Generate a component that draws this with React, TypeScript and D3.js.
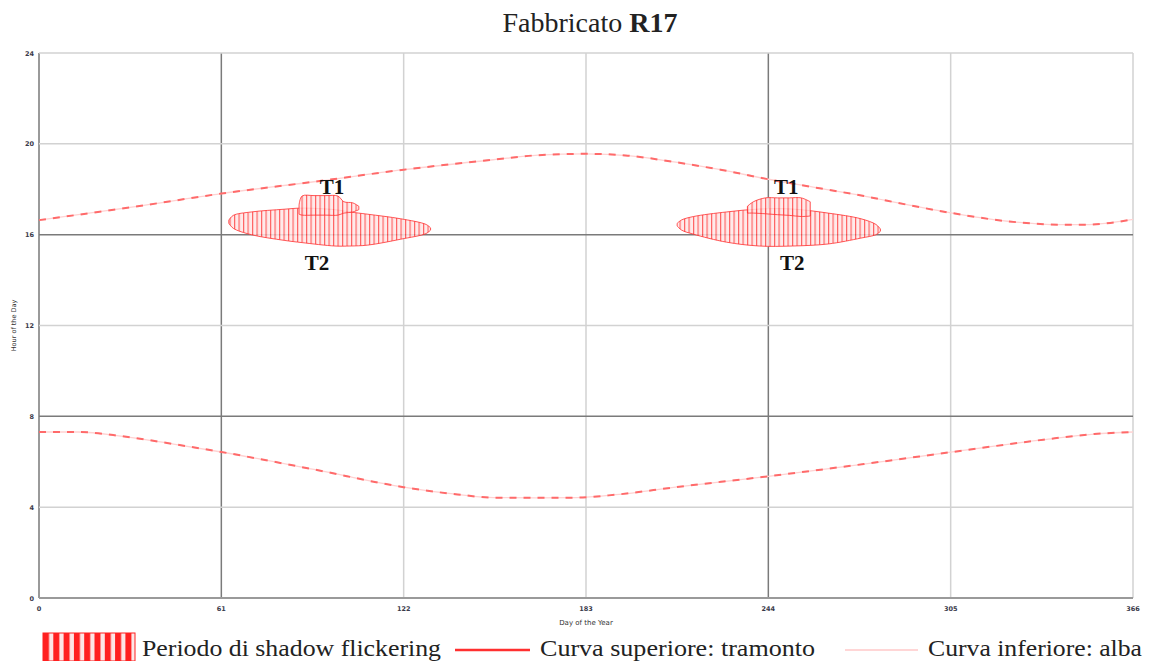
import React from "react";
import * as d3 from "d3";

const W = 1149;
const H = 661;

// Axis ticks
const xTicks = [0, 61, 122, 183, 244, 305, 366];
const yTicks = [0, 4, 8, 12, 16, 20, 24];
const majorXTicks = [61, 244];
const majorYTicks = [8, 16];

// Sunset (upper curve)
const sunsetDays = [0, 31, 61, 92, 122, 152, 167, 183, 197, 213, 228, 244, 260, 276, 290, 305, 324, 342, 350, 366];
const sunsetHours = [16.64, 17.21, 17.81, 18.33, 18.86, 19.3, 19.5, 19.56, 19.48, 19.19, 18.86, 18.44, 18.07, 17.7, 17.33, 16.96, 16.59, 16.44, 16.44, 16.67];

// Sunrise (lower curve)
const sunriseDays = [0, 13, 28, 45, 61, 92, 122, 140, 152, 166, 180, 193, 213, 244, 276, 305, 336, 353, 366];
const sunriseHours = [7.31, 7.31, 7.12, 6.78, 6.43, 5.66, 4.88, 4.56, 4.42, 4.41, 4.42, 4.55, 4.88, 5.36, 5.9, 6.42, 6.97, 7.22, 7.31];

// Shadow flicker windows: day, start hour, end hour
const t2SpringDays = [63.5, 65, 71, 82, 88, 99, 104, 110, 121, 129.5, 131];
const t2SpringStart = [16.5, 16.28, 16.0, 15.75, 15.65, 15.5, 15.5, 15.54, 15.8, 16.05, 16.2];
const t2SpringEnd = [16.64, 16.85, 17.0, 17.12, 17.17, 17.1, 17.0, 16.9, 16.7, 16.45, 16.3];

const t1SpringDays = [87, 88, 92, 96, 100, 102, 105, 107];
const t1SpringStart = [16.9, 16.86, 16.86, 16.86, 16.86, 16.95, 17.0, 17.1];
const t1SpringEnd = [17.3, 17.7, 17.72, 17.72, 17.7, 17.45, 17.4, 17.25];

const t2FallDays = [213.5, 215, 219, 230, 241, 252, 264, 275, 280, 281.5];
const t2FallStart = [16.38, 16.2, 16.02, 15.67, 15.5, 15.5, 15.59, 15.85, 16.0, 16.15];
const t2FallEnd = [16.5, 16.65, 16.8, 17.0, 17.13, 17.13, 16.95, 16.7, 16.45, 16.25];

const t1FallDays = [237, 239, 243, 247, 251, 255, 258];
const t1FallStart = [16.95, 16.95, 16.92, 16.88, 16.85, 16.8, 16.82];
const t1FallEnd = [17.25, 17.45, 17.62, 17.62, 17.62, 17.62, 17.45];

// Turbine labels
const labelNames = ["T1", "T2", "T1", "T2"];
const labelDays = [98, 93, 250, 252];
const labelHours = [17.8, 14.45, 17.8, 14.45];

const legendLabels = ["Periodo di shadow flickering", "Curva superiore: tramonto", "Curva inferiore: alba"];

type Win = { d: number; s: number; e: number };
const zipWin = (days: number[], s: number[], e: number[]): Win[] =>
  days.map((d, i) => ({ d, s: s[i], e: e[i] }));

export default function App() {
  const x = d3.scaleLinear().domain([0, 366]).range([39, 1133]);
  const y = d3.scaleLinear().domain([0, 24]).range([598, 53]);

  const line = d3
    .line<[number, number]>()
    .x((p) => x(p[0]))
    .y((p) => y(p[1]))
    .curve(d3.curveMonotoneX);

  const area = d3
    .area<Win>()
    .x((p) => x(p.d))
    .y0((p) => y(p.s))
    .y1((p) => y(p.e))
    .curve(d3.curveCatmullRom);

  const sunset = line(sunsetDays.map((d, i) => [d, sunsetHours[i]])) || "";
  const sunrise = line(sunriseDays.map((d, i) => [d, sunriseHours[i]])) || "";

  const windows = [
    zipWin(t2SpringDays, t2SpringStart, t2SpringEnd),
    zipWin(t1SpringDays, t1SpringStart, t1SpringEnd),
    zipWin(t2FallDays, t2FallStart, t2FallEnd),
    zipWin(t1FallDays, t1FallStart, t1FallEnd),
  ];

  const serif = "'Liberation Serif', 'Times New Roman', serif";
  const sans = "'DejaVu Sans', Arial, sans-serif";

  return (
    <div style={{ position: "absolute", left: 0, top: 0 }}>
      <svg width={W} height={H} style={{ display: "block", background: "#fff" }}>
        <defs>
          <pattern id="hatch" patternUnits="userSpaceOnUse" width={4.5} height={10}>
            <rect width={4.5} height={10} fill="#ffe6e6" />
            <line x1={0.6} x2={0.6} y1={0} y2={10} stroke="#ff3b3b" strokeWidth={1.1} />
          </pattern>
          <pattern id="legendStripes" patternUnits="userSpaceOnUse" x={43} width={10.3} height={30}>
            <rect width={10.3} height={30} fill="#fde6e6" />
            <rect x={0} width={6} height={30} fill="#ff2020" />
          </pattern>
        </defs>

        {/* Title */}
        <text x={590} y={32} textAnchor="middle" fontFamily={serif} fontSize={28} fill="#222">
          Fabbricato <tspan fontWeight="bold">R17</tspan>
        </text>

        {/* Grid */}
        {xTicks.map((t) => (
          <line
            key={"gx" + t}
            x1={x(t)}
            x2={x(t)}
            y1={y(24)}
            y2={y(0)}
            stroke={majorXTicks.includes(t) ? "#7a7a7a" : t === 0 ? "#9a9a9a" : "#d2d2d2"}
            strokeWidth={t === 0 ? 2 : 1.5}
          />
        ))}
        {yTicks.map((t) => (
          <line
            key={"gy" + t}
            x1={x(0)}
            x2={x(366)}
            y1={y(t)}
            y2={y(t)}
            stroke={majorYTicks.includes(t) ? "#7a7a7a" : t === 0 ? "#9a9a9a" : "#d2d2d2"}
            strokeWidth={t === 0 ? 2 : 1.5}
          />
        ))}

        {/* Tick labels */}
        {yTicks.map((t) => (
          <text key={"ty" + t} x={x(0) - 5} y={y(t) + 2.5} textAnchor="end" fontFamily={sans} fontSize={6.5} fontWeight="bold" fill="#3a3a4a">
            {t}
          </text>
        ))}
        {xTicks.map((t) => (
          <text key={"tx" + t} x={x(t)} y={y(0) + 13} textAnchor="middle" fontFamily={sans} fontSize={6.5} fontWeight="bold" fill="#3a3a4a">
            {t}
          </text>
        ))}
        <text x={x(183)} y={625} textAnchor="middle" fontFamily={sans} fontSize={7} fill="#333">
          Day of the Year
        </text>
        <text
          transform={`translate(16, ${y(12)}) rotate(-90)`}
          textAnchor="middle"
          fontFamily={sans}
          fontSize={6.5}
          fill="#333"
        >
          Hour of the Day
        </text>

        {/* Sunset / sunrise curves */}
        <path d={sunset} fill="none" stroke="#ffd2d2" strokeWidth={1.3} />
        <path d={sunset} fill="none" stroke="#ff6a6a" strokeWidth={2} strokeDasharray="7 7" />
        <path d={sunrise} fill="none" stroke="#ffd2d2" strokeWidth={1.3} />
        <path d={sunrise} fill="none" stroke="#ff6a6a" strokeWidth={2} strokeDasharray="7 7" />

        {/* Shadow flicker periods */}
        {windows.map((w, i) => (
          <path
            key={"w" + i}
            d={area(w) || ""}
            fill="url(#hatch)"
            fillOpacity={0.85}
            stroke="#ff3030"
            strokeOpacity={0.8}
            strokeWidth={1}
          />
        ))}

        {/* Turbine labels */}
        {labelNames.map((n, i) => (
          <text
            key={"l" + i}
            x={x(labelDays[i])}
            y={y(labelHours[i])}
            textAnchor="middle"
            fontFamily={serif}
            fontWeight="bold"
            fontSize={21}
            fill="#111"
          >
            {n}
          </text>
        ))}

        {/* Legend */}
        <rect x={43} y={633} width={92} height={28} fill="url(#legendStripes)" stroke="#ff2020" strokeWidth={1} />
        <text x={142} y={656} fontFamily={serif} fontSize={24} fill="#222" textLength={299} lengthAdjust="spacingAndGlyphs">
          {legendLabels[0]}
        </text>
        <line x1={455} x2={530} y1={650} y2={650} stroke="#ff3030" strokeWidth={2.5} />
        <text x={540} y={656} fontFamily={serif} fontSize={24} fill="#222" textLength={275} lengthAdjust="spacingAndGlyphs">
          {legendLabels[1]}
        </text>
        <line x1={845} x2={918} y1={650} y2={650} stroke="#ffc8c8" strokeWidth={1.5} />
        <text x={928} y={656} fontFamily={serif} fontSize={24} fill="#222" textLength={214} lengthAdjust="spacingAndGlyphs">
          {legendLabels[2]}
        </text>
      </svg>
    </div>
  );
}
